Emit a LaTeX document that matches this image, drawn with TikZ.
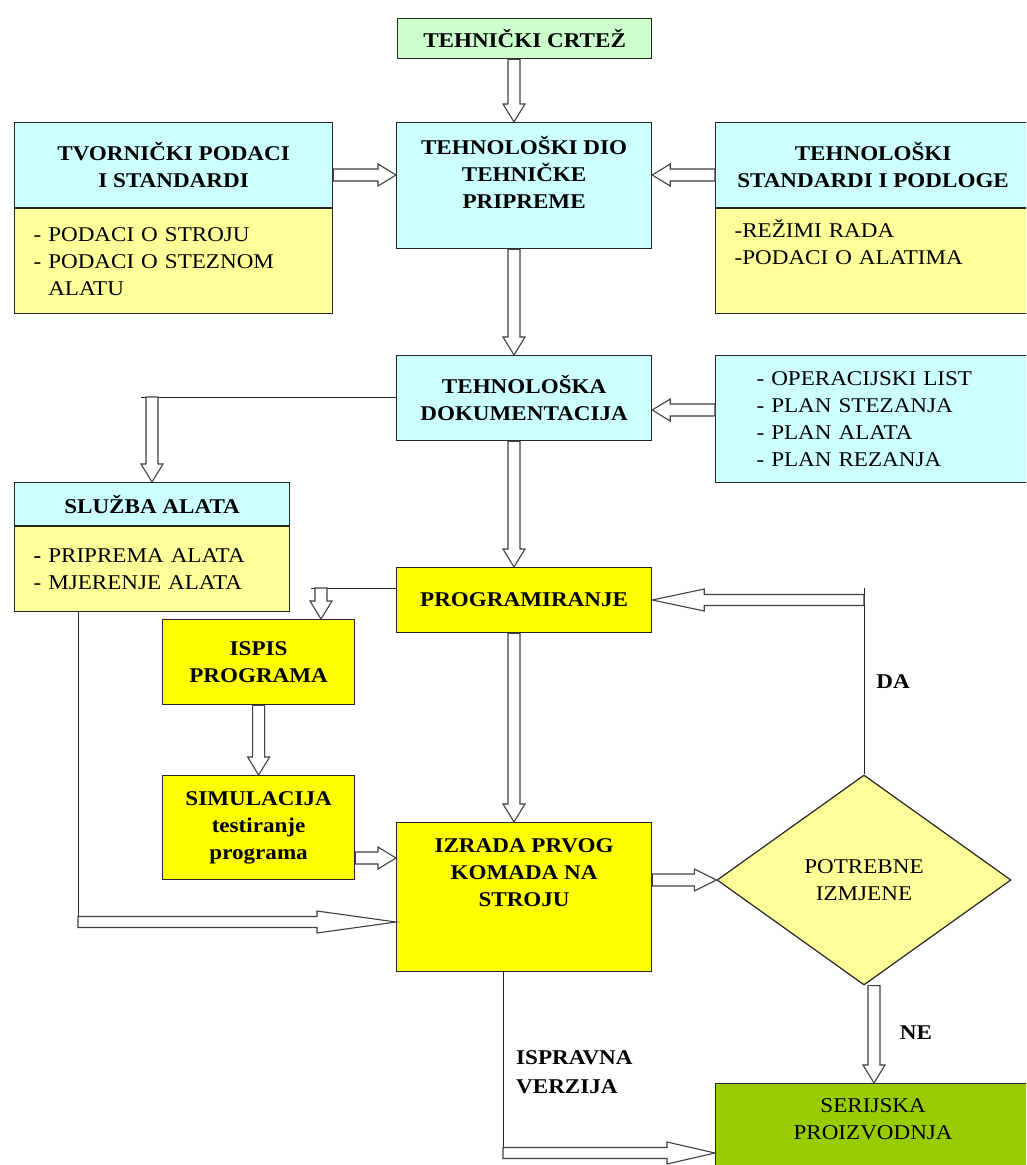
\documentclass[tikz,border=0pt]{standalone}
\usepackage{fontspec}
\setmainfont{Liberation Serif}[FakeStretch=1.1]
\usetikzlibrary{calc,shapes.geometric}
\definecolor{lblue}{HTML}{CCFFFF}
\definecolor{lyell}{HTML}{FFFF99}
\definecolor{byell}{HTML}{FFFF00}
\definecolor{lgreen}{HTML}{CCFFCC}
\definecolor{dgreen}{HTML}{99CC00}
\tikzset{
  hlen/.store in=\hlen, hwid/.store in=\hwid, swid/.store in=\swid,
  hlen=18pt, hwid=11pt, swid=6pt,
  harrow/.style={draw=black!75, line width=1.1pt, fill=white, line join=miter,
    to path={let \p1=(\tikztostart), \p2=(\tikztotarget), \p3=($(\p2)!\hlen!(\p1)$) in
      ($(\p1)!\swid!90:(\p2)$) -- ($(\p3)!\swid!90:(\p2)$) -- ($(\p3)!\hwid!90:(\p2)$) -- (\p2)
      -- ($(\p3)!\hwid!-90:(\p2)$) -- ($(\p3)!\swid!-90:(\p2)$) -- ($(\p1)!\swid!-90:(\p2)$) -- cycle}},
  conn/.style={draw=black!85, line width=1pt},
  box/.style={draw=black!85, line width=1.2pt, rectangle, inner sep=0pt, align=center,
    font=\fontsize{21}{27}\selectfont\bfseries},
  item/.style={box, font=\fontsize{21}{27}\selectfont, align=left, inner xsep=19pt},
  lbl/.style={inner sep=0pt, font=\fontsize{21}{29}\selectfont\bfseries}
}
\begin{document}
\begin{tikzpicture}[x=1pt,y=-1pt]
\useasboundingbox (0,0) rectangle (1026,1165);
\clip (0,0) rectangle (1026,1165);

% boxes
\node[box, fill=lgreen, anchor=north west, minimum width=254pt, minimum height=40pt] (crtez) at (397,18) {TEHNIČKI CRTEŽ};

\node[box, fill=lblue, anchor=north west, minimum width=318pt, minimum height=85pt] (tvt) at (14,122) {TVORNIČKI PODACI\\I STANDARDI};
\node[item, fill=lyell, anchor=north, minimum width=318pt, minimum height=105pt, text width=280pt] (tvb) at (tvt.south) {- PODACI O STROJU\\- PODACI O STEZNOM\\\phantom{- }ALATU};

\node[box, fill=lblue, anchor=north west, minimum width=255pt, minimum height=126pt, text depth=26pt] (dio) at (396,122) {TEHNOLOŠKI DIO\\TEHNIČKE\\PRIPREME};

\node[box, fill=lblue, anchor=north west, minimum width=315pt, minimum height=85pt] (rst) at (715,122) {TEHNOLOŠKI\\STANDARDI I PODLOGE};
\node[item, fill=lyell, anchor=north, minimum width=315pt, minimum height=105pt, text width=277pt, text depth=66pt] (rsb) at (rst.south) {-REŽIMI RADA\\-PODACI O ALATIMA};

\node[box, fill=lblue, anchor=north west, minimum width=255pt, minimum height=85pt] (doc) at (396,355) {TEHNOLOŠKA\\DOKUMENTACIJA};

\node[item, fill=lblue, anchor=north west, minimum width=315pt, minimum height=127pt, text width=233pt, inner xsep=41pt] (lst) at (715,355) {- OPERACIJSKI LIST\\- PLAN STEZANJA\\- PLAN ALATA\\- PLAN REZANJA};

\node[box, fill=lblue, anchor=north west, minimum width=275pt, minimum height=43pt] (slt) at (14,482) {SLUŽBA ALATA};
\node[item, fill=lyell, anchor=north, minimum width=275pt, minimum height=85pt, text width=237pt] (slb) at (slt.south) {\textbf{-} PRIPREMA ALATA\\- MJERENJE ALATA};

\node[box, fill=byell, anchor=north west, minimum width=255pt, minimum height=65pt] (prog) at (396,567) {PROGRAMIRANJE};
\node[box, fill=byell, anchor=north west, minimum width=192pt, minimum height=85pt] (ispis) at (162,619) {ISPIS\\PROGRAMA};
\node[box, fill=byell, anchor=north west, minimum width=192pt, minimum height=104pt] (simul) at (162,775) {SIMULACIJA\\testiranje\\programa};
\node[box, fill=byell, anchor=north west, minimum width=255pt, minimum height=149pt, text depth=50pt] (izrada) at (396,822) {IZRADA PRVOG\\KOMADA NA\\STROJU};

\node[diamond, draw=black!85, line width=1.2pt, fill=lyell, inner sep=0pt, minimum width=294pt, minimum height=210pt, align=center, font=\fontsize{21}{27}\selectfont] (dia) at (864,880) {POTREBNE\\IZMJENE};

\node[box, fill=dgreen, anchor=north west, minimum width=315pt, minimum height=90pt, text depth=20pt, font=\fontsize{21}{27}\selectfont] (ser) at (715,1083) {SERIJSKA\\PROIZVODNJA};

% labels
\node[lbl] (da) at (893,682) {DA};
\node[lbl] (ne) at (916,1033) {NE};
\node[lbl, align=left, anchor=west] (isp) at (516,1072) {ISPRAVNA\\VERZIJA};

% helper coordinates
\coordinate (cx) at (514,0);
\coordinate (y1) at (0,175);
\coordinate (y2) at (0,410);
\coordinate (j1) at (141,397);
\coordinate (j1a) at (152,397);
\coordinate (j2) at (311,588);
\coordinate (j2a) at (321,588);
\coordinate (y4) at (0,858);
\coordinate (j3) at (78,922);
\coordinate (j4) at (864,588);
\coordinate (j4a) at (864,600);
\coordinate (j5) at (874,0);
\coordinate (j6) at (503,1153);

% connectors
\draw[harrow] (crtez.south -| cx) to (dio.north -| cx);
\draw[harrow] (tvt.east |- y1) to (dio.west |- y1);
\draw[harrow] (rst.west |- y1) to (dio.east |- y1);
\draw[harrow] (dio.south -| cx) to (doc.north -| cx);
\draw[harrow] (lst.west |- y2) to (doc.east |- y2);
\draw[conn] (doc.west |- j1) -- (j1);
\draw[harrow] (j1a) to (slt.north -| j1a);
\draw[harrow] (doc.south -| cx) to (prog.north -| cx);
\draw[conn] (prog.west |- j2) -- (j2);
\draw[harrow] (j2a) to (ispis.north -| j2a);
\draw[harrow] (ispis.south) to (simul.north);
\draw[harrow] (simul.east |- y4) to (izrada.west |- y4);
\draw[harrow] (prog.south -| cx) to (izrada.north -| cx);
\draw[conn] (slb.south -| j3) -- (j3);
\draw[harrow, hlen=79pt, swid=5.5pt] (j3) to (izrada.west |- j3);
\draw[harrow, hlen=22pt] (izrada.east |- dia.west) to (dia.west);
\draw[conn] (dia.north) -- (j4);
\draw[harrow, hlen=52pt, swid=5.5pt] (j4a) to (prog.east |- j4a);
\draw[harrow] (dia.south -| j5) to (ser.north -| j5);
\draw[conn] (izrada.south -| j6) -- (j6);
\draw[harrow, hlen=48pt, swid=5.5pt] (j6) to (ser.west |- j6);
\end{tikzpicture}
\end{document}
